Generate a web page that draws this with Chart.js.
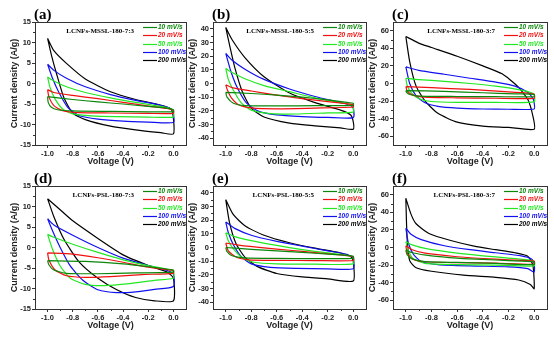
<!DOCTYPE html>
<html>
<head>
<meta charset="utf-8">
<script src="https://cdn.jsdelivr.net/npm/chart.js@4.4.1/dist/chart.umd.min.js"></script>
<style>
  body { margin: 0; background: #fff; }
  #fig { position: relative; width: 554px; height: 339px; overflow: hidden; }
  canvas { position: absolute; }
</style>
</head>
<body>
<div id="fig">
  <canvas id="pa" width="194" height="171" style="left:0px;top:0px"></canvas>
  <canvas id="pb" width="196" height="171" style="left:178px;top:0px"></canvas>
  <canvas id="pc" width="196" height="171" style="left:358px;top:0px"></canvas>
  <canvas id="pd" width="194" height="170" style="left:0px;top:165px"></canvas>
  <canvas id="pe" width="196" height="170" style="left:178px;top:165px"></canvas>
  <canvas id="pf" width="196" height="170" style="left:358px;top:165px"></canvas>
</div>
<script>
// tick labels and categories
const voltageTicks = [-1.0, -0.8, -0.6, -0.4, -0.2, 0.0];
const currentTicks15 = [-15, -10, -5, 0, 5, 10, 15];
const currentTicks40 = [-40, -30, -20, -10, 0, 10, 20, 30, 40];
const currentTicks60 = [-60, -40, -20, 0, 20, 40, 60];
const scanRates = ['10 mV/s', '20 mV/s', '50 mV/s', '100 mV/s', '200 mV/s'];
const panelLabels = ['(a)', '(b)', '(c)', '(d)', '(e)', '(f)'];
const sampleNames = ['LCNFs-MSSL-180-7:3', 'LCNFs-MSSL-180-5:5', 'LCNFs-MSSL-180-3:7',
                     'LCNFs-PSL-180-7:3', 'LCNFs-PSL-180-5:5', 'LCNFs-PSL-180-3:7'];

// CV loops, [voltage, current density]
const a10 = [[-1,-3.2],[-0.8,-3.9],[-0.6,-4.5],[-0.4,-5.0],[-0.2,-5.6],[-0.05,-6.0],[0,-6.4],[0,-6.9],[-0.2,-6.9],[-0.5,-6.8],[-0.8,-6.7],[-0.92,-6.4],[-0.97,-5.8],[-0.995,-4.6]];
const a20 = [[-1,-1.5],[-0.95,-2.2],[-0.8,-2.9],[-0.6,-3.7],[-0.4,-4.6],[-0.2,-5.5],[-0.05,-6.1],[0,-6.6],[0,-7.3],[-0.2,-7.3],[-0.5,-7.2],[-0.75,-7.1],[-0.88,-6.6],[-0.95,-5.4],[-0.99,-3.2]];
const a50 = [[-1,1.6],[-0.95,0.6],[-0.85,-0.8],[-0.7,-2.2],[-0.5,-3.5],[-0.3,-4.6],[-0.1,-5.6],[-0.02,-6.2],[0,-7],[0,-8.2],[-0.2,-8.2],[-0.45,-8.1],[-0.65,-7.9],[-0.8,-7.4],[-0.88,-6.2],[-0.94,-3.8],[-0.98,-1]];
const a100 = [[-1,4.7],[-0.95,3.2],[-0.85,1.3],[-0.7,-0.8],[-0.5,-2.7],[-0.3,-4.1],[-0.1,-5.3],[-0.02,-6.2],[0,-7.5],[0,-9.5],[-0.2,-9.4],[-0.4,-9.2],[-0.6,-8.7],[-0.75,-7.8],[-0.84,-5.8],[-0.91,-2.2],[-0.96,1.2]];
const a200 = [[-1,11],[-0.95,8],[-0.85,4.9],[-0.7,1.1],[-0.5,-2.0],[-0.3,-3.9],[-0.1,-5.3],[-0.02,-6.2],[0,-8.5],[0,-12.3],[-0.1,-12],[-0.3,-11.3],[-0.5,-10.4],[-0.7,-8.8],[-0.8,-7.2],[-0.87,-3.5],[-0.93,2.5],[-0.97,7]];

const b10 = [[-1,-6.5],[-0.8,-7.3],[-0.6,-8.5],[-0.4,-10],[-0.2,-12],[-0.05,-13.8],[0,-14.5],[0,-16],[-0.3,-16.2],[-0.6,-16.4],[-0.85,-16.2],[-0.94,-14.5],[-0.99,-10]];
const b20 = [[-1,-1],[-0.95,-3],[-0.8,-5.5],[-0.6,-8.5],[-0.4,-11],[-0.2,-13.2],[-0.05,-14.8],[0,-15.5],[0,-17.2],[-0.3,-18],[-0.6,-18.5],[-0.8,-17.8],[-0.9,-15.5],[-0.96,-10],[-0.99,-4]];
const b50 = [[-1,11],[-0.95,8],[-0.85,3.5],[-0.7,-1.5],[-0.5,-6],[-0.3,-10.5],[-0.1,-14],[-0.02,-15.5],[0,-17],[0,-21],[-0.2,-21.5],[-0.45,-22.3],[-0.65,-22],[-0.8,-19.5],[-0.88,-14],[-0.94,-5],[-0.98,3]];
const b100 = [[-1,22],[-0.95,17],[-0.85,10.5],[-0.7,3],[-0.5,-4],[-0.3,-9.5],[-0.1,-14],[-0.02,-16],[0,-18],[0,-25],[-0.2,-24.8],[-0.4,-24.2],[-0.6,-23],[-0.75,-20],[-0.84,-14],[-0.91,-3],[-0.96,9]];
const b200 = [[-1,41],[-0.95,32],[-0.85,19],[-0.7,5],[-0.5,-7],[-0.3,-14],[-0.1,-19.5],[-0.02,-23],[0,-28],[0,-33.5],[-0.1,-32.5],[-0.3,-31],[-0.5,-29],[-0.7,-24.5],[-0.8,-18],[-0.87,-6],[-0.93,12],[-0.97,28]];

const c10 = [[-1,-8],[-0.7,-9],[-0.4,-10.5],[-0.15,-11.8],[0,-12.5],[0,-15],[-0.3,-15],[-0.6,-14.8],[-0.9,-14.3],[-0.97,-12.5],[-0.995,-10]];
const c20 = [[-1,-3.5],[-0.8,-4.8],[-0.5,-6.8],[-0.2,-9.5],[-0.05,-11],[0,-12],[0,-17],[-0.3,-16.8],[-0.6,-16.3],[-0.85,-15.5],[-0.95,-13],[-0.99,-8]];
const c50 = [[-1,6],[-0.9,4.5],[-0.7,2.5],[-0.5,0],[-0.3,-3],[-0.1,-7.5],[-0.02,-10.5],[0,-13],[0,-21],[-0.3,-21.5],[-0.6,-21.5],[-0.8,-20.5],[-0.9,-17],[-0.96,-10],[-0.99,-2]];
const c100 = [[-1,19],[-0.9,15],[-0.7,10.5],[-0.5,6],[-0.3,1.5],[-0.15,-3],[-0.05,-10],[-0.01,-17],[0,-22],[0,-29],[-0.2,-29.3],[-0.4,-29],[-0.6,-28],[-0.75,-26],[-0.85,-22],[-0.92,-14],[-0.97,0]];
const c200 = [[-1,53.5],[-0.9,46],[-0.8,41],[-0.6,31],[-0.4,20],[-0.25,11],[-0.13,-3],[-0.05,-18],[-0.01,-37],[0,-52],[-0.2,-50],[-0.4,-48.5],[-0.6,-44],[-0.75,-34],[-0.85,-20],[-0.92,-3],[-0.97,25]];

const d10 = [[-1,-3.2],[-0.7,-3.4],[-0.4,-4],[-0.2,-4.7],[0,-5.5],[0,-6],[-0.3,-6.2],[-0.6,-6.4],[-0.85,-6.3],[-0.95,-5.5],[-0.99,-4.2]];
const d20 = [[-1,-1.3],[-0.8,-1.6],[-0.6,-2.5],[-0.4,-3.6],[-0.2,-4.8],[-0.05,-5.4],[0,-5.6],[0,-6.3],[-0.25,-6.6],[-0.5,-7.1],[-0.7,-7.3],[-0.85,-6.9],[-0.94,-5.5],[-0.99,-3]];
const d50 = [[-1,3.2],[-0.95,2.5],[-0.8,0.8],[-0.6,-1.2],[-0.4,-3],[-0.2,-4.4],[-0.05,-5.3],[0,-6],[0,-7.5],[-0.15,-8],[-0.35,-8.8],[-0.55,-9.3],[-0.7,-9],[-0.82,-7.5],[-0.9,-4.5],[-0.96,-0.5]];
const d100 = [[-1,7],[-0.95,5.5],[-0.8,3],[-0.6,0],[-0.4,-2.6],[-0.2,-4.4],[-0.05,-5.6],[0,-6.5],[0,-9.5],[-0.15,-10.2],[-0.3,-10.8],[-0.45,-11],[-0.6,-10.3],[-0.72,-8],[-0.82,-4.5],[-0.9,0],[-0.96,4]];
const d200 = [[-1,11.9],[-0.9,9.2],[-0.8,6.5],[-0.6,2.2],[-0.4,-1.8],[-0.2,-4.4],[-0.05,-6],[0,-7.5],[0,-13],[-0.15,-13],[-0.3,-12.2],[-0.45,-10.3],[-0.6,-7.5],[-0.75,-3.5],[-0.87,2],[-0.95,7.5]];

const e10 = [[-1,0],[-0.8,-1.3],[-0.6,-2.5],[-0.4,-3.6],[-0.2,-4.8],[-0.05,-5.8],[0,-6.5],[0,-8],[-0.3,-8.1],[-0.6,-8],[-0.85,-7.6],[-0.95,-6],[-0.99,-3]];
const e20 = [[-1,3.3],[-0.9,1.8],[-0.7,-0.3],[-0.5,-2],[-0.3,-3.7],[-0.1,-5.5],[0,-6.8],[0,-9.5],[-0.3,-9.6],[-0.6,-9.4],[-0.82,-9],[-0.92,-7],[-0.98,-2.5]];
const e50 = [[-1,10.7],[-0.93,8],[-0.8,5],[-0.6,1.5],[-0.4,-1.5],[-0.2,-4],[-0.05,-5.8],[0,-7],[0,-12],[-0.3,-12.2],[-0.6,-12],[-0.78,-10.8],[-0.87,-7.5],[-0.94,-1],[-0.98,5]];
const e100 = [[-1,18.7],[-0.93,14],[-0.8,9],[-0.6,4.5],[-0.4,1],[-0.2,-2.5],[-0.05,-5],[0,-8],[0,-15.5],[-0.2,-15.6],[-0.45,-15.3],[-0.65,-14.5],[-0.8,-12],[-0.88,-6.5],[-0.94,2],[-0.98,11]];
const e200 = [[-1,35],[-0.94,24],[-0.85,16],[-0.7,9],[-0.5,3.5],[-0.3,-0.5],[-0.1,-4],[-0.02,-6.5],[0,-10],[0,-24.5],[-0.2,-23],[-0.4,-21.5],[-0.6,-19],[-0.75,-14],[-0.85,-7],[-0.92,3],[-0.97,18]];

const f10 = [[-1,-3],[-0.95,-6],[-0.8,-9.5],[-0.6,-12],[-0.4,-13.5],[-0.2,-15],[0,-16.5],[0,-19.5],[-0.3,-18],[-0.6,-17],[-0.85,-16],[-0.95,-13],[-0.99,-8]];
const f20 = [[-1,2],[-0.95,-2.5],[-0.85,-6.5],[-0.6,-10.5],[-0.4,-12.5],[-0.2,-14],[0,-15.5],[0,-19],[-0.3,-17.8],[-0.6,-17.2],[-0.85,-16.2],[-0.95,-13],[-0.99,-6]];
const f50 = [[-1,6.7],[-0.95,3],[-0.85,-1],[-0.6,-6.5],[-0.4,-9.5],[-0.2,-12],[-0.05,-14],[0,-16],[0,-21],[-0.3,-20],[-0.6,-19.5],[-0.85,-18],[-0.94,-13],[-0.98,-4]];
const f100 = [[-1,22],[-0.96,15],[-0.88,9],[-0.7,2],[-0.5,-2.5],[-0.3,-6],[-0.1,-9.5],[-0.02,-13],[0,-18],[0,-28],[-0.05,-24],[-0.2,-22],[-0.5,-21],[-0.75,-19.5],[-0.88,-16],[-0.94,-8],[-0.98,5]];
const f200 = [[-1,56],[-0.96,38],[-0.92,27],[-0.82,16],[-0.65,8],[-0.45,1],[-0.3,-2.5],[-0.15,-6],[-0.05,-10],[-0.01,-20],[0,-47],[-0.03,-42],[-0.12,-37],[-0.3,-34],[-0.55,-31.5],[-0.8,-27],[-0.92,-23],[-0.97,-15],[-0.99,10]];

const lineColors = ['#0a870a', '#f01010', '#22e822', '#1010f0', '#000000'];

// draws the frame, minor ticks, panel letter, sample name and legend
const decor = {
  id: 'decor',
  afterDraw(chart, args, opts) {
    const ctx = chart.ctx;
    const a = chart.chartArea;
    const xs = chart.scales.x, ys = chart.scales.y;
    ctx.save();
    ctx.strokeStyle = '#333';
    ctx.lineWidth = 1;
    ctx.strokeRect(Math.round(a.left) + 0.5, Math.round(a.top) + 0.5,
                   Math.round(a.right - a.left), Math.round(a.bottom - a.top));

    // minor ticks halfway between major ones
    ctx.beginPath();
    for (let i = 0; i < voltageTicks.length - 1; i++) {
      const px = Math.round(xs.getPixelForValue((voltageTicks[i] + voltageTicks[i + 1]) / 2)) + 0.5;
      ctx.moveTo(px, a.bottom); ctx.lineTo(px, a.bottom + 2);
    }
    const yt = opts.yTicks;
    for (let i = 0; i < yt.length - 1; i++) {
      const py = Math.round(ys.getPixelForValue((yt[i] + yt[i + 1]) / 2)) + 0.5;
      ctx.moveTo(a.left, py); ctx.lineTo(a.left - 2, py);
    }
    ctx.stroke();

    ctx.fillStyle = '#000';
    ctx.font = 'bold 15px "Liberation Serif"';
    ctx.textBaseline = 'alphabetic';
    ctx.textAlign = 'left';
    ctx.fillText(opts.label, a.left - 1, a.top - 3.5);

    ctx.font = 'bold 7px "Liberation Serif"';
    ctx.textAlign = 'right';
    ctx.textBaseline = 'middle';
    ctx.fillText(opts.name, a.right - 52, a.top + 9);

    ctx.textAlign = 'left';
    ctx.font = 'italic bold 6.5px "Liberation Sans"';
    chart.data.datasets.forEach((ds, i) => {
      const y = Math.round(a.top + 5 + i * 8.3) + 0.5;
      ctx.strokeStyle = ds.borderColor;
      ctx.lineWidth = 1.2;
      ctx.beginPath();
      ctx.moveTo(a.right - 43, y); ctx.lineTo(a.right - 29, y);
      ctx.stroke();
      ctx.fillStyle = ds.borderColor;
      ctx.fillText(ds.label, a.right - 28, y);
    });
    ctx.restore();
  }
};

const tickFont = { family: 'Liberation Sans', size: 7.5, weight: 'bold' };
const titleFont = { family: 'Liberation Sans', size: 9, weight: 'bold' };

function makePanel(id, loops, yTicks, yMin, yMax, idx, padTop, padRight) {
  const datasets = loops.map((loop, i) => ({
    label: scanRates[i],
    data: loop.concat([loop[0]]).map(p => ({ x: p[0], y: p[1] })),
    borderColor: lineColors[i],
    borderWidth: 1.2,
    showLine: true,
    pointRadius: 0,
    fill: false,
    tension: 0.2
  }));
  new Chart(document.getElementById(id), {
    type: 'scatter',
    data: { datasets },
    plugins: [decor],
    options: {
      responsive: false,
      animation: false,
      devicePixelRatio: 1,
      layout: { padding: { top: padTop, right: padRight, left: 0, bottom: 0 } },
      plugins: {
        legend: { display: false },
        tooltip: { enabled: false },
        decor: { label: panelLabels[idx], name: sampleNames[idx], yTicks }
      },
      scales: {
        x: {
          type: 'linear', min: -1.1, max: 0.1,
          afterBuildTicks: s => { s.ticks = voltageTicks.map(v => ({ value: v })); },
          afterFit: s => { s.height = 26; },
          grid: { drawOnChartArea: false, tickLength: 3, color: '#333' },
          border: { color: '#333' },
          ticks: { font: tickFont, color: '#222', padding: 1.5, maxRotation: 0, autoSkip: false,
                   callback: v => v.toFixed(1) },
          title: { display: true, text: 'Voltage (V)', font: titleFont, color: '#222',
                   padding: { top: 0, bottom: 4 } }
        },
        y: {
          type: 'linear', min: yMin, max: yMax,
          afterBuildTicks: s => { s.ticks = yTicks.map(v => ({ value: v })); },
          afterFit: s => { s.width = 35; },
          grid: { drawOnChartArea: false, tickLength: 3, color: '#333' },
          border: { color: '#333' },
          ticks: { font: tickFont, color: '#222', padding: 1, autoSkip: false },
          title: { display: true, text: 'Current density (A/g)', font: titleFont, color: '#222',
                   padding: { top: 9, bottom: 0 } }
        }
      }
    }
  });
}

makePanel('pa', [a10, a20, a50, a100, a200], currentTicks15, -15, 15, 0, 22, 8);
makePanel('pb', [b10, b20, b50, b100, b200], currentTicks40, -45, 45, 1, 22, 8);
makePanel('pc', [c10, c20, c50, c100, c200], currentTicks60, -70, 70, 2, 22, 7);
makePanel('pd', [d10, d20, d50, d100, d200], currentTicks15, -15, 15, 3, 21, 8);
makePanel('pe', [e10, e20, e50, e100, e200], currentTicks40, -45, 45, 4, 21, 8);
makePanel('pf', [f10, f20, f50, f100, f200], currentTicks60, -70, 70, 5, 21, 7);
</script>
</body>
</html>
